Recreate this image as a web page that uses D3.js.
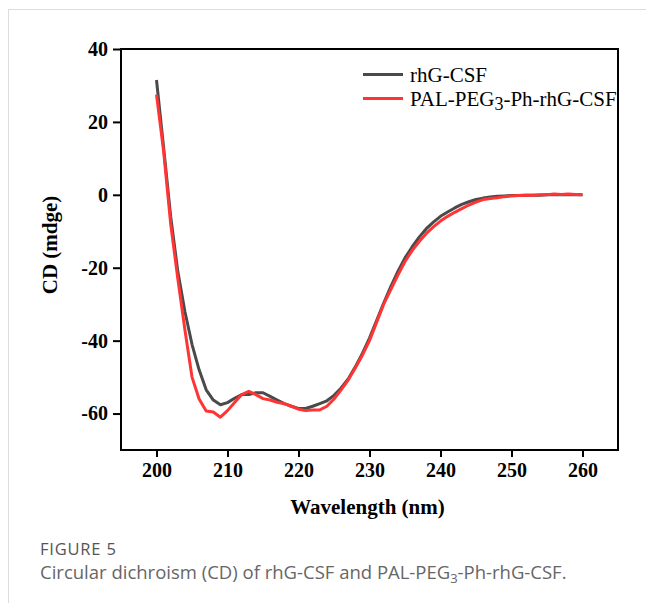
<!DOCTYPE html>
<html>
<head>
<meta charset="utf-8">
<script src="https://cdn.jsdelivr.net/npm/d3@7"></script>
<style>
  body { margin: 0; background: #fff; }
  svg { display: block; }
</style>
</head>
<body>
<div id="chart"></div>
<script>
// wavelengths, 1 nm steps
var wavelengths = d3.range(200, 261);

// rhG-CSF
var rhgcsf = [
  31.5, 13, -6, -21, -32, -41, -48, -53.5, -56.3, -57.6,
  -57, -55.8, -54.8, -54.8, -54.3, -54.3, -55.3, -56.3, -57.3, -58,
  -58.6, -58.6, -58, -57.3, -56.5, -55, -53, -50.5, -47.2, -43.5,
  -39.3, -34.5, -29.7, -25.2, -21, -17.3, -14.3, -11.6, -9.3, -7.5,
  -5.9, -4.7, -3.6, -2.6, -1.9, -1.3, -0.9, -0.6, -0.4, -0.3,
  -0.2, -0.2, -0.1, -0.1, -0.1, 0, 0.1, 0, 0.1, 0, 0
];

// PAL-PEG3-Ph-rhG-CSF
var palpeg = [
  27.5, 12, -8, -23, -37, -50, -56, -59.3, -59.6, -61,
  -59.2, -57, -54.8, -53.9, -54.8, -55.9, -56.3, -56.9, -57.3, -58,
  -58.8, -59.2, -59, -59, -58, -56, -53.5, -50.8, -47.5, -44,
  -40, -35, -30, -26, -22, -18.3, -15.3, -12.8, -10.6, -8.8,
  -7.2, -5.9, -4.8, -3.8, -2.8, -2, -1.3, -1, -0.8, -0.5,
  -0.3, -0.2, -0.1, -0.1, 0, 0, 0.2, 0.1, 0.2, 0.1, 0
];

var xTicks = [200, 210, 220, 230, 240, 250, 260];
var yTicks = [40, 20, 0, -20, -40, -60];

var W = 646, H = 603;
var margin = { top: 49, right: 28, bottom: 153, left: 121 };
var width = W - margin.left - margin.right;
var height = H - margin.top - margin.bottom;

var svg = d3.select("#chart").append("svg")
  .attr("width", W)
  .attr("height", H);

// page border (top + left)
svg.append("line").attr("x1", 8.5).attr("x2", W).attr("y1", 9.5).attr("y2", 9.5)
  .attr("stroke", "#dcdcdc").attr("stroke-width", 1);
svg.append("line").attr("x1", 8.5).attr("x2", 8.5).attr("y1", 9.5).attr("y2", H)
  .attr("stroke", "#dcdcdc").attr("stroke-width", 1);

var g = svg.append("g")
  .attr("transform", `translate(${margin.left},${margin.top})`);

var x = d3.scaleLinear().domain([195, 265]).range([0, width]);
var y = d3.scaleLinear().domain([-70, 40]).range([height, 0]);

var xAxis = g.append("g")
  .attr("transform", `translate(0,${height})`)
  .call(d3.axisBottom(x).tickValues(xTicks).tickSize(7).tickSizeOuter(0).tickPadding(6));
var yAxis = g.append("g")
  .call(d3.axisLeft(y).tickValues(yTicks).tickSize(8).tickSizeOuter(0).tickPadding(5)
    .tickFormat(d => String(d)));

[xAxis, yAxis].forEach(function (a) {
  a.select(".domain").remove();
  a.selectAll(".tick line").attr("stroke", "#000").attr("stroke-width", 2);
  a.selectAll(".tick text")
    .attr("fill", "#000")
    .style("font-family", "'Liberation Serif', 'Times New Roman', serif")
    .style("font-weight", "bold")
    .style("font-size", "20px");
});

// frame
g.append("rect")
  .attr("x", 0).attr("y", 0)
  .attr("width", width).attr("height", height)
  .attr("fill", "none").attr("stroke", "#000").attr("stroke-width", 2);

var series = [
  { name: "rhG-CSF", values: rhgcsf, color: "#4a4a4a" },
  { name: "PAL-PEG3-Ph-rhG-CSF", values: palpeg, color: "#ff3535" }
];

var line = d3.line()
  .x(d => x(d[0]))
  .y(d => y(d[1]));

series.forEach(function (s) {
  g.append("path")
    .datum(wavelengths.map((w, i) => [w, s.values[i]]))
    .attr("fill", "none")
    .attr("stroke", s.color)
    .attr("stroke-width", 3)
    .attr("stroke-linejoin", "round")
    .attr("d", line);
});

// legend
var legend = svg.append("g")
  .style("font-family", "'Liberation Serif', 'Times New Roman', serif")
  .style("font-size", "21px");

legend.append("line").attr("x1", 363).attr("x2", 403).attr("y1", 74.5).attr("y2", 74.5)
  .attr("stroke", series[0].color).attr("stroke-width", 3);
legend.append("text").attr("x", 410).attr("y", 82).attr("fill", "#000").text("rhG-CSF");

legend.append("line").attr("x1", 363).attr("x2", 403).attr("y1", 98.5).attr("y2", 98.5)
  .attr("stroke", series[1].color).attr("stroke-width", 3);
var t2 = legend.append("text").attr("x", 410).attr("y", 106).attr("fill", "#000");
t2.append("tspan").text("PAL-PEG");
t2.append("tspan").attr("dy", 4).style("font-size", "18px").text("3");
t2.append("tspan").attr("dy", -4).text("-Ph-rhG-CSF");

// axis titles
svg.append("text")
  .attr("x", margin.left + width / 2 - 2)
  .attr("y", 514)
  .attr("text-anchor", "middle")
  .style("font-family", "'Liberation Serif', 'Times New Roman', serif")
  .style("font-weight", "bold")
  .style("font-size", "21px")
  .text("Wavelength (nm)");

svg.append("text")
  .attr("transform", "translate(57,245) rotate(-90)")
  .attr("text-anchor", "middle")
  .style("font-family", "'Liberation Serif', 'Times New Roman', serif")
  .style("font-weight", "bold")
  .style("font-size", "21px")
  .text("CD (mdge)");

// caption
svg.append("text")
  .attr("x", 40).attr("y", 555)
  .attr("fill", "#555")
  .style("font-family", "'Open Sans', sans-serif")
  .style("font-size", "16.5px")
  .style("letter-spacing", "0.8px")
  .text("FIGURE 5");

var cap = svg.append("text")
  .attr("x", 40).attr("y", 579)
  .attr("fill", "#666")
  .style("font-family", "'Open Sans', sans-serif")
  .style("font-size", "18.5px");
cap.append("tspan").text("Circular dichroism (CD) of rhG-CSF and PAL-PEG");
cap.append("tspan").attr("dy", 4).style("font-size", "13px").text("3");
cap.append("tspan").attr("dy", -4).text("-Ph-rhG-CSF.");
</script>
</body>
</html>
